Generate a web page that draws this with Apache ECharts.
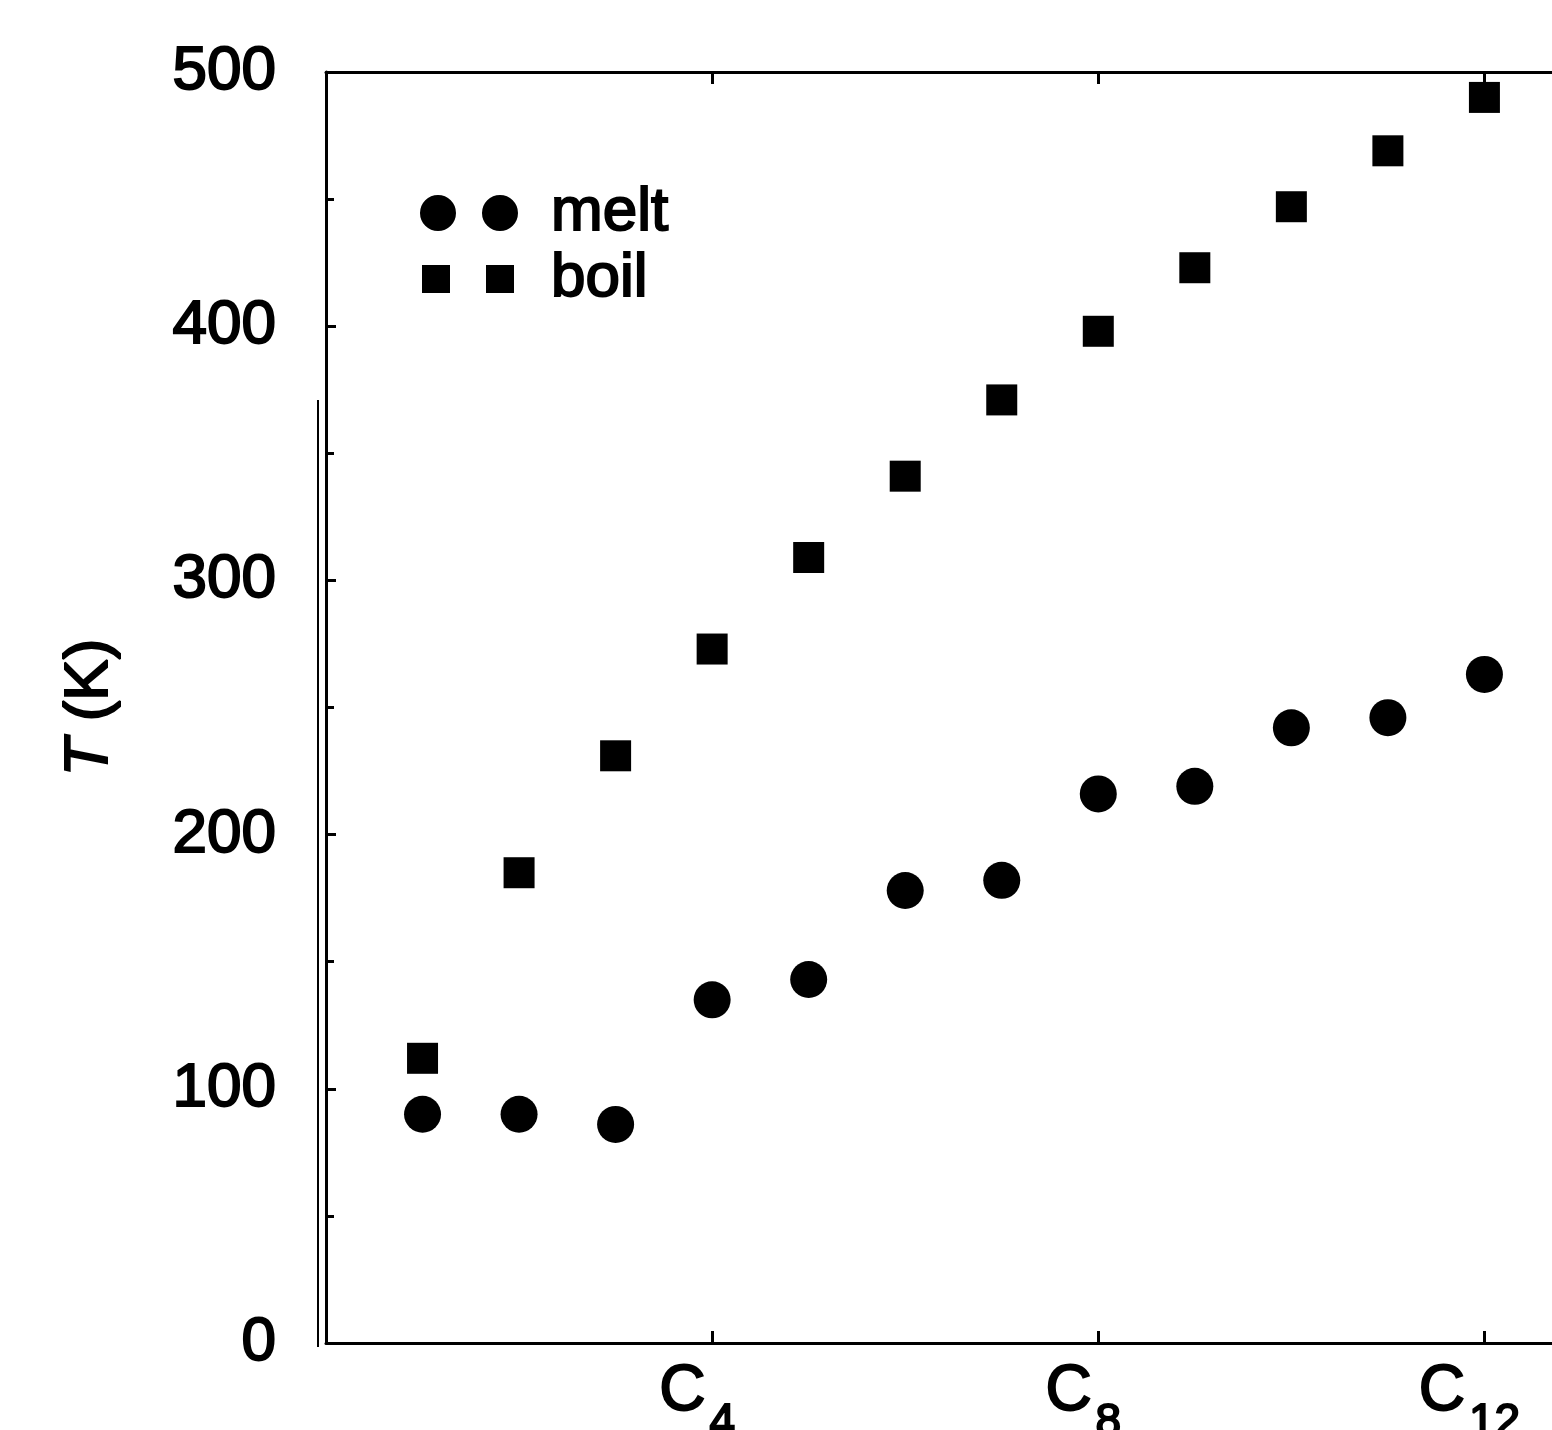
<!DOCTYPE html>
<html>
<head>
<meta charset="utf-8">
<title>T (K) melt / boil</title>
<script src="https://cdn.jsdelivr.net/npm/echarts@6/dist/echarts.min.js"></script>
<style>
  html, body { margin: 0; padding: 0; background: #fff; }
  #chart { width: 1552px; height: 1430px; }
</style>
</head>
<body>
<div id="chart"></div>
<script>
// 碳原子数 C1 ... C12
const carbons = [1, 2, 3, 4, 5, 6, 7, 8, 9, 10, 11, 12];
// 熔点 (K)
const meltK = [90, 90, 86, 135, 143, 178, 182, 216, 219, 242, 246, 263];
// 沸点 (K)
const boilK = [112, 185, 231, 273, 309, 341, 371, 398, 423, 447, 469, 490];
// 横轴刻度与标签
const xTicks = [4, 8, 12];
const xTickLabels = { 4: 'C4', 8: 'C8', 12: 'C12' };
const seriesNames = ['melt', 'boil'];

(function() {
  'use strict';

  document.addEventListener('DOMContentLoaded', function() {
    initChart();
  });

  /**
   * 初始化散点图
   */
  function initChart() {
    const el = document.getElementById('chart');
    const chart = echarts.init(el, null, { renderer: 'canvas' });

    const font = 'Liberation Sans, Arial, Helvetica, sans-serif';
    const ink = '#000';

    const textBase = {
      color: ink,
      fontFamily: font,
      fontSize: 62,
      textBorderColor: ink,
      textBorderWidth: 2
    };

    const legendBase = {
      orient: 'vertical',
      selectedMode: false,
      padding: 0
    };

    const option = {
      backgroundColor: '#fff',
      animation: false,
      grid: {
        left: 326,
        right: 0,
        top: 72,
        bottom: 87,
        outerBoundsMode: 'none'
      },
      legend: [
        Object.assign({}, legendBase, {
          data: [{
            name: seriesNames[0],
            icon: 'path://M0,18a18,18 0 1,0 36,0a18,18 0 1,0 -36,0M62,18a18,18 0 1,0 36,0a18,18 0 1,0 -36,0'
          }],
          left: 420,
          top: 181,
          itemWidth: 98,
          itemHeight: 36,
          textStyle: Object.assign({}, textBase, { padding: [0, 0, 0, 28] })
        }),
        Object.assign({}, legendBase, {
          data: [{
            name: seriesNames[1],
            icon: 'path://M0,0h28v28h-28zM64,0h28v28h-28z'
          }],
          left: 422,
          top: 247,
          itemWidth: 92,
          itemHeight: 28,
          textStyle: Object.assign({}, textBase, { padding: [0, 0, 0, 32] })
        })
      ],
      xAxis: [{
        type: 'value',
        min: 0,
        max: 12.7,
        interval: 4,
        position: 'bottom',
        splitLine: { show: false },
        axisLine: { lineStyle: { color: ink, width: 3 } },
        axisTick: { inside: true, length: 12, customValues: xTicks, lineStyle: { color: ink, width: 3 } },
        axisLabel: {
          margin: 17,
          customValues: xTicks,
          formatter: function(v) {
            const t = xTickLabels[v];
            return t ? '{c|C}{s|' + t.slice(1) + '}' : '';
          },
          rich: {
            c: { fontFamily: font, fontSize: 64, lineHeight: 64, color: ink, verticalAlign: 'top',
                 textBorderColor: ink, textBorderWidth: 2 },
            s: { fontFamily: font, fontSize: 46, lineHeight: 46, color: ink, verticalAlign: 'top',
                 padding: [40, 30, 0, 4], textBorderColor: ink, textBorderWidth: 2 }
          }
        }
      }, {
        // 上边框
        type: 'value',
        min: 0,
        max: 12.7,
        interval: 4,
        position: 'top',
        splitLine: { show: false },
        axisLine: { lineStyle: { color: ink, width: 3 } },
        axisTick: { inside: true, length: 12, customValues: xTicks, lineStyle: { color: ink, width: 3 } },
        axisLabel: { show: false }
      }],
      yAxis: [{
        type: 'value',
        min: 0,
        max: 500,
        interval: 100,
        name: '{i|T} (K)',
        nameLocation: 'middle',
        nameRotate: 90,
        nameGap: 205,
        nameTextStyle: {
          color: ink,
          fontFamily: font,
          fontSize: 62,
          textBorderColor: ink,
          textBorderWidth: 2,
          rich: {
            i: { fontFamily: font, fontSize: 62, fontStyle: 'italic', color: ink,
                 textBorderColor: ink, textBorderWidth: 2 }
          }
        },
        splitLine: { show: false },
        axisLine: { show: true, lineStyle: { color: ink, width: 3 } },
        axisTick: { inside: true, length: 10, lineStyle: { color: ink, width: 3 } },
        minorTick: { show: true, splitNumber: 2, length: 8, lineStyle: { color: ink, width: 3 } },
        axisLabel: Object.assign({}, textBase, { margin: 50 })
      }],
      graphic: [{
        // 扫描件左侧多出的竖线
        type: 'line',
        shape: { x1: 318, y1: 400, x2: 318, y2: 1347 },
        style: { stroke: ink, lineWidth: 2 },
        silent: true
      }],
      series: [{
        name: seriesNames[0],
        type: 'scatter',
        symbol: 'circle',
        symbolSize: 37,
        itemStyle: { color: ink, opacity: 1 },
        data: carbons.map((c, i) => [c, meltK[i]])
      }, {
        name: seriesNames[1],
        type: 'scatter',
        symbol: 'rect',
        symbolSize: 31,
        itemStyle: { color: ink, opacity: 1 },
        data: carbons.map((c, i) => [c, boilK[i]])
      }]
    };

    chart.setOption(option);

    window.addEventListener('resize', function() {
      chart.resize();
    });
  }
})();
</script>
</body>
</html>
